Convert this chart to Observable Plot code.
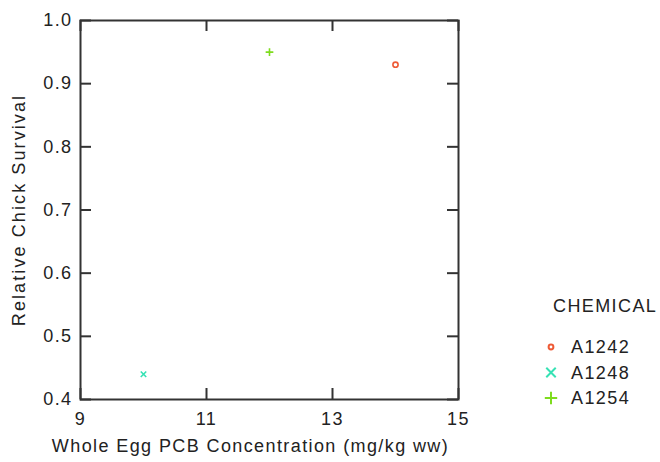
<!DOCTYPE html>
<html>
<head>
<meta charset="utf-8">
<script src="https://cdn.jsdelivr.net/npm/d3@7"></script>
<script src="https://cdn.jsdelivr.net/npm/@observablehq/plot@0.6"></script>
<style>
  html, body { margin: 0; padding: 0; background: #fff; }
  #wrap { position: relative; width: 660px; height: 462px; font-family: "Liberation Sans", Arial, sans-serif; color: #222; }
  #legend { position: absolute; left: 0; top: 0; width: 660px; height: 462px; pointer-events: none; }
</style>
</head>
<body>
<div id="wrap"><div id="chart"></div><svg id="legend" width="660" height="462"></svg></div>
<script>
// ---- data ----
const chemicals = ["A1242", "A1248", "A1254"];
const concentration = [14, 10, 12];       // mg/kg ww
const survival = [0.93, 0.44, 0.95];      // relative chick survival
const xTicks = [9, 11, 13, 15];
const yTicks = [0.4, 0.5, 0.6, 0.7, 0.8, 0.9, 1.0];
const symbols = ["circle", "times", "plus"];
const colors = ["#ee5a36", "#36e2b4", "#7edc1e"];
const xTitle = "Whole Egg PCB Concentration (mg/kg ww)";
const yTitle = "Relative Chick Survival";
const legendTitle = "CHEMICAL";

const data = chemicals.map((c, i) => ({chem: c, x: concentration[i], y: survival[i]}));

const W = 660, H = 462, mL = 80, mR = 202, mT = 20, mB = 63;
const pw = W - mL - mR, ph = H - mT - mB, tl = 11;

const chart = Plot.plot({
  width: W, height: H,
  marginLeft: mL, marginRight: mR, marginTop: mT, marginBottom: mB,
  x: {domain: [9, 15]},
  y: {domain: [0.4, 1.0]},
  symbol: {domain: chemicals, range: symbols},
  color: {domain: chemicals, range: colors},
  style: {fontFamily: "'Liberation Sans', Arial, sans-serif", fontSize: "18px", letterSpacing: "1.4px", color: "#222", background: "#fff"},
  marks: [
    Plot.axisX(xTicks, {tickSize: 0, tickPadding: 13, label: null, tickFormat: d => String(d)}),
    Plot.axisY(yTicks, {tickSize: 0, tickPadding: 8, label: null, tickFormat: d3.format(".1f")}),
    Plot.tickX(xTicks, {x: d => d, insetTop: ph - tl, stroke: "#333", strokeWidth: 2}),
    Plot.tickX(xTicks, {x: d => d, insetBottom: ph - tl, stroke: "#333", strokeWidth: 2}),
    Plot.tickY(yTicks, {y: d => d, insetRight: pw - tl, stroke: "#333", strokeWidth: 2}),
    Plot.tickY(yTicks, {y: d => d, insetLeft: pw - tl, stroke: "#333", strokeWidth: 2}),
    Plot.frame({stroke: "#333", strokeWidth: 2}),
    Plot.dot(data, {x: "x", y: "y", symbol: "chem", stroke: "chem", r: 2.6, strokeWidth: 1.6}),
    Plot.text([xTitle], {frameAnchor: "bottom", dy: 47, dx: -19, lineAnchor: "middle", textAnchor: "middle", fontSize: 18, fill: "#222"}),
    Plot.text([yTitle], {frameAnchor: "left", rotate: -90, dx: -61, lineAnchor: "middle", textAnchor: "middle", fontSize: 18, fill: "#222", className: "ytitle"})
  ]
});
document.getElementById("chart").appendChild(chart);
d3.select(chart).selectAll(".ytitle text").style("letter-spacing", "2.1px");

// ---- legend ----
const leg = d3.select("#legend");
leg.append("text").attr("x", 553).attr("y", 306).attr("dy", "0.35em")
  .style("font-size", "18px").style("letter-spacing", "1.4px").attr("fill", "#222")
  .text(legendTitle);
const dSym = {circle: d3.symbolCircle, times: d3.symbolTimes, plus: d3.symbolPlus};
const dSize = {circle: 18, times: 60, plus: 52};
chemicals.forEach((c, i) => {
  const cy = 347 + i * 25.5;
  leg.append("path").attr("transform", `translate(551,${cy})`)
    .attr("d", d3.symbol(dSym[symbols[i]], dSize[symbols[i]])())
    .attr("fill", "none").attr("stroke", colors[i]).attr("stroke-width", 2);
  leg.append("text").attr("x", 571).attr("y", cy).attr("dy", "0.35em")
    .style("font-size", "18px").style("letter-spacing", "1.4px").attr("fill", "#222")
    .text(c);
});
</script>
</body>
</html>
